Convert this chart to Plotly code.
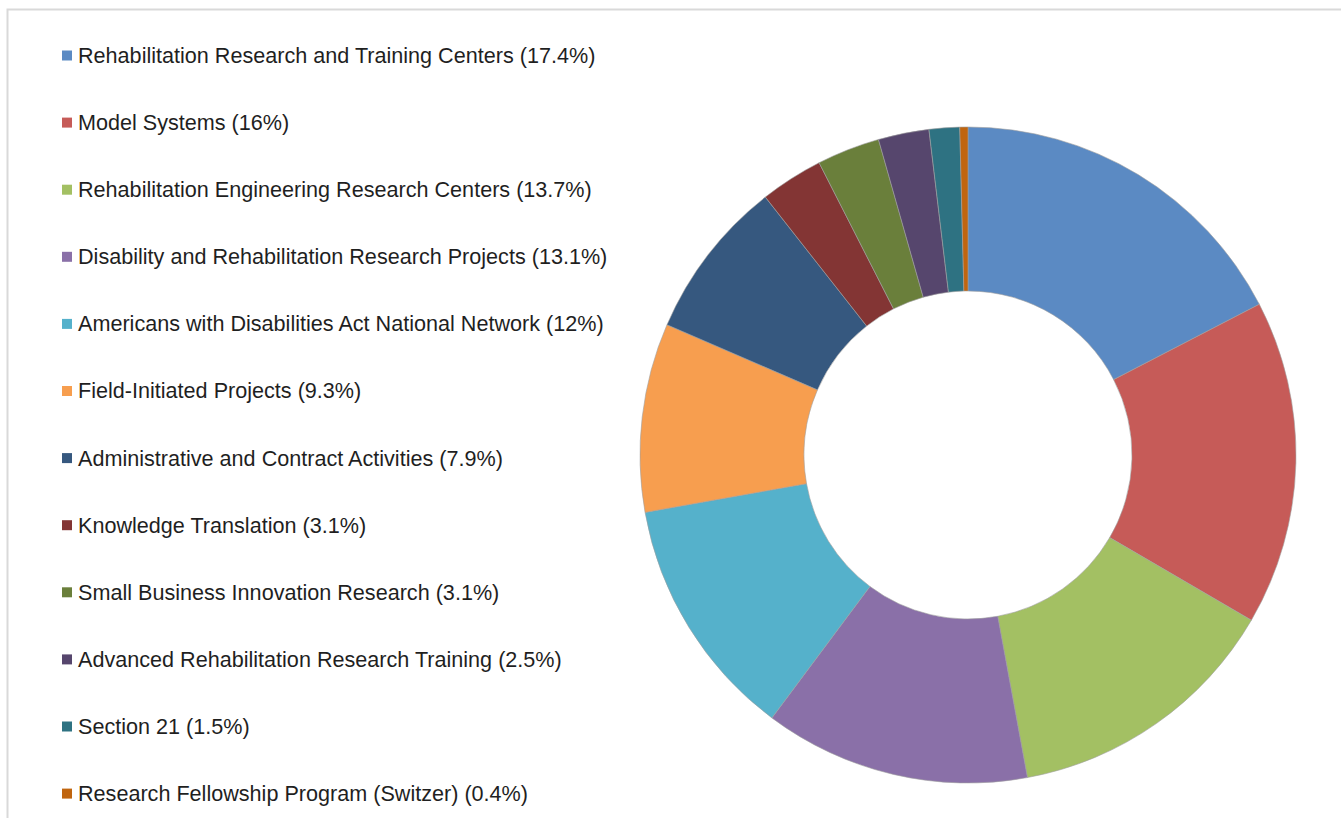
import plotly.graph_objects as go

labels = [
    "Rehabilitation Research and Training Centers",
    "Model Systems",
    "Rehabilitation Engineering Research Centers",
    "Disability and Rehabilitation Research Projects",
    "Americans with Disabilities Act National Network",
    "Field-Initiated Projects",
    "Administrative and Contract Activities",
    "Knowledge Translation",
    "Small Business Innovation Research",
    "Advanced Rehabilitation Research Training",
    "Section 21",
    "Research Fellowship Program (Switzer)",
]
values = [17.4, 16, 13.7, 13.1, 12, 9.3, 7.9, 3.1, 3.1, 2.5, 1.5, 0.4]
colors = [
    "#5B8AC3", "#C65B58", "#A3C063", "#8A70A8", "#55B1CB", "#F79E4F",
    "#36587F", "#833534", "#6A7F3B", "#56466D", "#2E7282", "#C0650F",
]

W, H = 1341, 818
cx, cy, R = 968, 455, 328

fig = go.Figure(go.Pie(
    labels=labels,
    values=values,
    hole=0.5,
    sort=False,
    direction="clockwise",
    rotation=0,
    marker=dict(colors=colors, line=dict(color="#A0A0A0", width=0.6)),
    textinfo="none",
    showlegend=False,
    domain=dict(x=[(cx - R) / W, (cx + R) / W], y=[(H - cy - R) / H, (H - cy + R) / H]),
))

shapes = [dict(type="rect", xref="paper", yref="paper",
               x0=7.5 / W, x1=1.02, y0=-0.02, y1=(H - 9.5) / H,
               line=dict(color="#D9D9D9", width=2), fillcolor="rgba(0,0,0,0)", layer="below")]
annotations = []
y_first, step = 55.5, 67.1
for i, (lab, val, col) in enumerate(zip(labels, values, colors)):
    yc = y_first + i * step
    shapes.append(dict(type="rect", xref="paper", yref="paper",
                       x0=62 / W, x1=72 / W, y0=(H - yc - 5) / H, y1=(H - yc + 5) / H,
                       line=dict(width=0), fillcolor=col))
    annotations.append(dict(xref="paper", yref="paper", x=76 / W, y=(H - yc) / H,
                            xanchor="left", yanchor="middle", showarrow=False,
                            text=f"{lab} ({val:g}%)",
                            font=dict(family="Liberation Sans, Arial", size=21.6, color="#1F1F1F")))

fig.update_layout(
    width=W, height=H,
    margin=dict(l=0, r=0, t=0, b=0),
    paper_bgcolor="white",
    plot_bgcolor="white",
    shapes=shapes,
    annotations=annotations,
)

fig.write_html("out.html", config={"displayModeBar": False},
               post_script="document.body.style.margin='0';document.body.style.overflow='hidden';")
